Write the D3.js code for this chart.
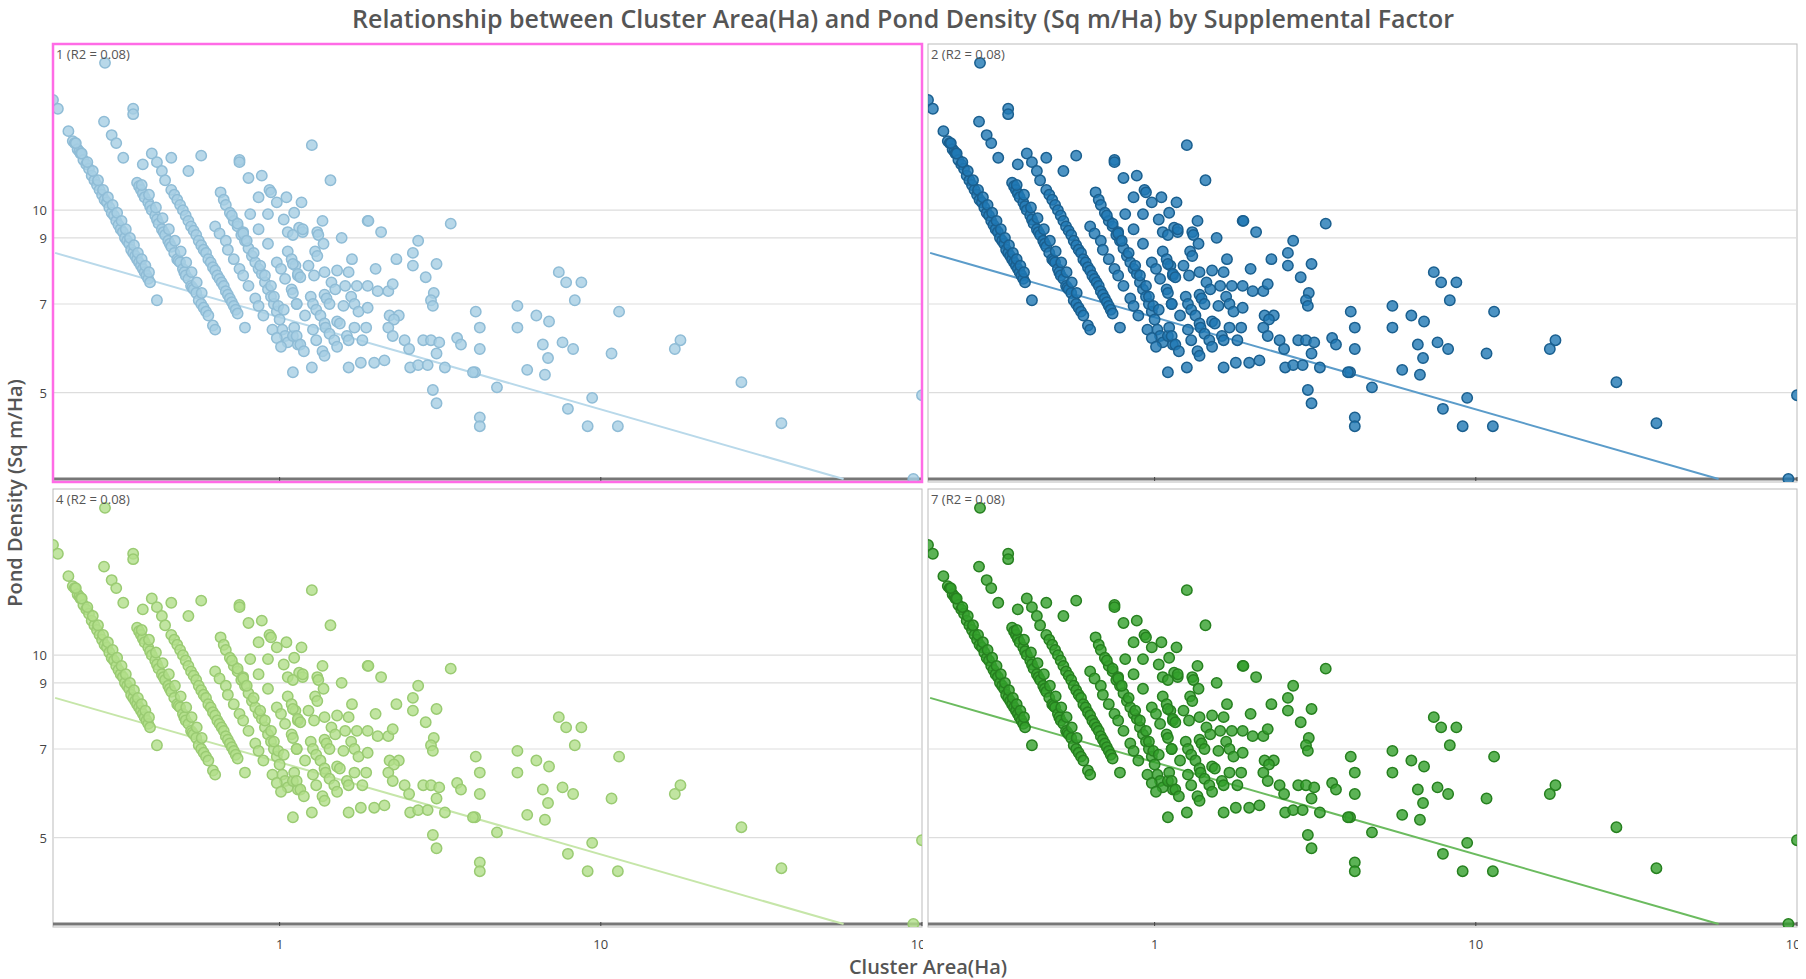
<!DOCTYPE html>
<html><head><meta charset="utf-8">
<script src="https://cdn.jsdelivr.net/npm/d3@7"></script>
<style>body{margin:0;background:#fff;font-family:"Open Sans","Noto Sans",sans-serif}</style>
</head><body><svg id="c" width="1806" height="979"></svg>
<script>
const panelLabels = ["1 (R2 = 0.08)", "2 (R2 = 0.08)", "4 (R2 = 0.08)", "7 (R2 = 0.08)"];
const panelFill = ["#a6cee3", "#1f78b4", "#b2df8a", "#33a02c"];
const panelStroke = ["#8fbcd6", "#1a5f8f", "#9acb72", "#26801f"];
const trendColor = ["#b9d9ea", "#5b9cca", "#c6e6a9", "#6bbb5f"];
const xTicks = [1, 10, 100];
const xTickLabels = ["1", "10", "100"];
const yTicks = [5, 7, 9, 10];
const trend = [[0.2, 8.5], [57, 3.6]];
const points = [
[0.197,15.2],[0.204,14.7],[0.286,17.5],[0.284,14.0],[0.30,13.3],[0.31,12.9],[0.326,12.2],[0.35,14.7],[0.35,14.4],
[0.375,11.9],[0.46,12.2],[0.57,12.3],[0.75,12.1],[1.26,12.8],[1.44,11.2],[1.88,9.6],[3.41,9.5],
[0.22,13.5],[0.227,13.0],[0.23,12.9],[0.235,12.6],[0.238,12.5],[0.24,12.4],[0.245,12.1],[0.25,11.9],[0.255,11.7],[0.26,11.4],
[0.265,11.2],[0.27,11.0],[0.275,10.8],[0.28,10.6],[0.285,10.4],[0.29,10.3],[0.295,10.1],[0.3,9.9],[0.305,9.8],[0.31,9.6],
[0.315,9.45],[0.32,9.3],[0.325,9.2],[0.33,9.0],[0.335,8.9],[0.34,8.8],[0.345,8.6],[0.35,8.5],[0.355,8.4],[0.36,8.3],
[0.365,8.2],[0.37,8.1],[0.375,8.0],[0.38,7.9],[0.385,7.8],[0.39,7.7],[0.395,7.6],[0.415,7.1],
[0.232,12.9],[0.242,12.4],[0.252,12.0],[0.262,11.6],[0.272,11.2],[0.282,10.8],[0.292,10.5],[0.302,10.2],[0.312,9.9],
[0.322,9.6],[0.332,9.3],[0.342,9.0],[0.352,8.75],[0.362,8.5],[0.372,8.3],[0.382,8.1],[0.392,7.9],
[0.36,11.1],[0.365,10.95],[0.37,10.8],[0.375,10.65],[0.38,10.5],[0.39,10.3],[0.395,10.15],[0.4,10.0],[0.41,9.8],[0.415,9.65],[0.42,9.5],
[0.43,9.3],[0.435,9.2],[0.44,9.1],[0.45,8.9],[0.455,8.8],[0.46,8.7],[0.47,8.5],[0.48,8.3],[0.485,8.25],[0.49,8.2],[0.5,8.0],
[0.505,7.9],[0.51,7.8],[0.52,7.7],[0.53,7.5],[0.535,7.45],[0.54,7.4],[0.55,7.3],[0.56,7.1],[0.57,7.0],[0.58,6.9],[0.59,6.8],
[0.6,6.7],[0.62,6.45],[0.63,6.35],
[0.372,11.0],[0.392,10.6],[0.412,10.1],[0.432,9.7],[0.452,9.3],[0.472,8.9],[0.492,8.55],[0.512,8.2],[0.532,7.9],[0.552,7.6],[0.572,7.3],
[0.40,12.4],[0.415,12.0],[0.43,11.6],[0.44,11.2],[0.46,10.8],[0.47,10.6],[0.48,10.4],[0.49,10.2],[0.5,10.0],[0.51,9.8],
[0.52,9.6],[0.53,9.4],[0.54,9.25],[0.55,9.1],[0.56,8.9],[0.57,8.75],[0.58,8.6],[0.59,8.5],[0.6,8.3],[0.61,8.2],[0.62,8.05],
[0.63,7.95],[0.64,7.8],[0.65,7.7],[0.66,7.6],[0.67,7.5],[0.68,7.35],[0.69,7.25],[0.7,7.15],[0.71,7.05],[0.72,6.95],[0.73,6.85],
[0.74,6.75],[0.78,6.4],
[0.655,10.7],[0.67,10.4],[0.68,10.2],[0.7,9.9],[0.72,9.6],[0.74,9.4],[0.76,9.1],[0.78,8.9],[0.8,8.65],[0.82,8.4],[0.84,8.2],
[0.86,8.0],[0.88,7.85],[0.9,7.6],[0.92,7.4],[0.94,7.2],[0.96,7.0],[0.98,6.8],[1.0,6.6],[1.02,6.35],[1.04,6.2],[1.06,6.05],
[0.52,11.6],[0.75,12.0],[0.8,11.3],[0.88,11.4],[0.86,10.5],[0.93,10.8],[0.94,10.7],[0.98,10.3],[1.05,10.5],[1.03,9.65],
[0.92,9.85],[0.81,9.85],[0.63,9.4],[0.71,9.8],[0.74,9.5],[0.77,9.2],[0.86,9.3],[1.06,9.2],[1.15,9.35],
[0.65,9.15],[0.68,8.9],[0.69,8.6],[0.72,8.3],[0.75,8.0],[0.77,7.8],[0.8,7.5],[0.84,7.15],[0.86,6.95],[0.89,6.7],
[0.77,9.15],[0.79,8.9],[0.83,8.5],[0.87,8.1],[0.9,7.8],[0.94,7.5],[0.96,7.2],[0.99,6.95],[1.03,6.85],
[0.92,8.8],[0.98,8.2],[1.01,8.0],[1.04,7.7],[1.06,8.55],[1.09,8.3],[1.12,8.1],[1.14,7.8],[1.09,7.4],[1.13,7.0],
[0.95,6.35],[0.98,6.15],[1.01,5.95],[1.1,6.2],[1.14,6.0],[1.1,5.4],[1.18,9.2],
[1.17,10.3],[1.11,9.9],[1.18,9.3],[1.1,9.1],[1.36,9.6],[1.31,9.2],[1.32,9.1],[1.37,8.8],[1.56,9.0],[1.89,9.6],[2.07,9.2],
[2.7,8.9],[1.29,8.55],[1.31,8.4],[1.68,8.3],[2.31,8.3],[2.6,8.5],[2.6,8.1],[3.08,8.15],[1.1,8.15],[1.23,8.1],[1.28,7.8],
[1.38,7.9],[1.51,7.95],[1.64,7.9],[1.99,8.0],[1.14,7.85],[1.16,7.75],[1.45,7.6],[1.49,7.4],[1.6,7.5],[1.74,7.5],[1.88,7.5],
[2.02,7.35],[2.18,7.35],[2.25,7.55],[2.85,7.75],[3.02,7.3],[2.96,7.1],[3.0,6.95],[1.1,7.3],[1.13,7.0],[1.25,7.2],[1.27,7.0],
[1.38,7.25],[1.4,7.15],[1.43,7.0],[1.58,6.95],[1.67,7.2],[1.71,7.0],[1.76,6.8],[1.88,6.9],[1.2,6.7],[1.3,6.85],[1.34,6.7],
[1.38,6.5],[1.51,6.55],[1.54,6.5],[1.71,6.4],[1.86,6.4],[2.2,6.7],[2.35,6.7],[2.27,6.6],[2.18,6.4],[2.25,6.2],[1.11,6.4],
[1.13,6.2],[1.16,6.0],[1.19,5.85],[1.27,6.35],[1.3,6.1],[1.39,6.4],[1.43,6.25],[1.48,6.1],[1.51,5.95],[1.36,5.85],[1.38,5.75],
[1.62,6.2],[1.64,6.1],[1.81,6.1],[2.45,6.1],[2.53,5.9],[2.8,6.1],[2.96,6.1],[3.14,6.05],[3.08,5.8],[3.57,6.15],[3.67,6.0],
[4.08,6.8],[4.2,6.4],[4.2,5.9],[5.5,6.95],[5.5,6.4],[6.3,6.7],[6.9,6.55],[6.6,6.0],[6.85,5.7],[1.79,5.6],[1.97,5.6],[2.12,5.65],
[1.26,5.5],[1.64,5.5],[2.55,5.5],[2.7,5.55],[2.89,5.55],[3.27,5.5],[4.06,5.4],[5.9,5.45],
[7.4,7.9],[7.8,7.6],[8.7,7.6],[8.3,7.1],[11.4,6.8],[7.6,6.05],[8.2,5.9],[6.7,5.35],[10.8,5.8],[17.0,5.9],[17.7,6.1],
[27.4,5.2],[9.4,4.9],[7.9,4.7],[9.1,4.4],[11.3,4.4],[36.5,4.45],[100,4.95],[94,3.6],
[4.2,4.55],[4.2,4.4],[3.08,4.8],[3.0,5.05],[4.75,5.1],[4.0,5.4]
];

const svg = d3.select("#c");
const W = 869, H = 438;
const panels = [[53,44],[928,44],[53,489],[928,489]];
const textCol = "#555";

svg.append("text").attr("x",903).attr("y",28).attr("text-anchor","middle")
  .attr("font-size",25).attr("font-weight",600).attr("fill",textCol)
  .text("Relationship between Cluster Area(Ha) and Pond Density (Sq m/Ha) by Supplemental Factor");
svg.append("text").attr("x",928).attr("y",974).attr("text-anchor","middle")
  .attr("font-size",20).attr("font-weight",600).attr("fill",textCol).text("Cluster Area(Ha)");
svg.append("text").attr("transform","translate(22,493) rotate(-90)").attr("text-anchor","middle")
  .attr("font-size",20).attr("font-weight",600).attr("fill",textCol).text("Pond Density (Sq m/Ha)");

panels.forEach((p,i)=>{
  const [px,py] = p;
  const x = d3.scaleLog().domain([0.197,100]).range([px,px+W]);
  const y = d3.scaleLog().domain([3.6,18.8]).range([py+435,py]);
  const g = svg.append("g");
  const cid = "clip"+i;
  svg.append("clipPath").attr("id",cid).append("rect").attr("x",px).attr("y",py).attr("width",W).attr("height",H);
  g.append("rect").attr("x",px).attr("y",py).attr("width",W).attr("height",H)
    .attr("fill","#fff").attr("stroke","#bbb").attr("stroke-width",1);
  g.selectAll(".grid").data(yTicks).join("line")
    .attr("x1",px).attr("x2",px+W).attr("y1",d=>y(d)).attr("y2",d=>y(d))
    .attr("stroke","#ddd").attr("stroke-width",1.2);
  if (i%2===0) {
    g.selectAll(".yl").data(yTicks).join("text")
      .attr("x",px-6).attr("y",d=>y(d)+5).attr("text-anchor","end")
      .attr("font-size",13).attr("fill","#444").text(d=>d);
  }
  g.append("line").attr("x1",px).attr("x2",px+W).attr("y1",y(3.6)).attr("y2",y(3.6))
    .attr("stroke","#777").attr("stroke-width",3);
  g.selectAll(".xt").data(xTicks).join("line")
    .attr("x1",d=>x(d)).attr("x2",d=>x(d)).attr("y1",y(3.6)-2).attr("y2",y(3.6)+2)
    .attr("stroke","#444");
  if (i>=2) {
    const tg = svg.append("g").attr("clip-path","url(#xclip"+i+")");
    svg.append("clipPath").attr("id","xclip"+i).append("rect").attr("x",px-10).attr("y",py+H).attr("width",W+11).attr("height",40);
    tg.selectAll("text").data(xTicks).join("text")
      .attr("x",d=>x(d)).attr("y",py+H+22).attr("text-anchor","middle")
      .attr("font-size",13).attr("fill","#444").text((d,k)=>xTickLabels[k]);
  }
  const inner = g.append("g").attr("clip-path","url(#"+cid+")");
  inner.append("line").attr("x1",x(trend[0][0])).attr("y1",y(trend[0][1]))
    .attr("x2",x(trend[1][0])).attr("y2",y(trend[1][1]))
    .attr("stroke",trendColor[i]).attr("stroke-width",2);
  inner.selectAll("circle").data(points).join("circle")
    .attr("cx",d=>x(d[0])).attr("cy",d=>y(d[1])).attr("r",5.2)
    .attr("fill",panelFill[i]).attr("fill-opacity",0.8)
    .attr("stroke",panelStroke[i]).attr("stroke-width",1.5);
  g.append("text").attr("x",px+3).attr("y",py+15).attr("font-size",13).attr("fill",textCol).text(panelLabels[i]);
  if (i===0) g.append("rect").attr("x",px).attr("y",py).attr("width",W).attr("height",H)
    .attr("fill","none").attr("stroke","#ff6be6").attr("stroke-width",2.5);
});
</script></body></html>
